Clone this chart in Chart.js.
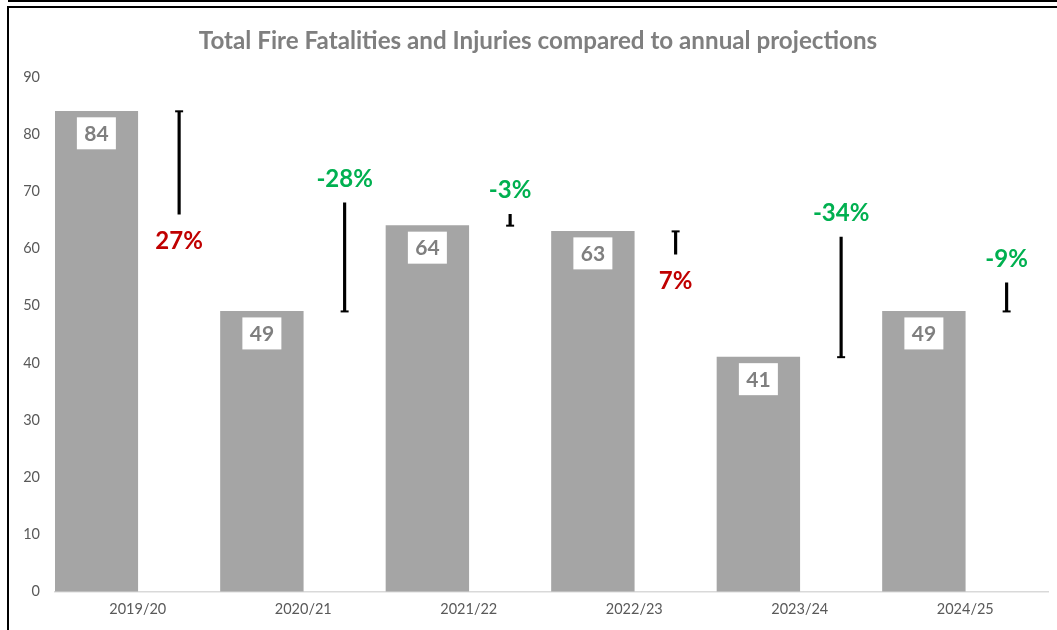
<!DOCTYPE html>
<html><head><meta charset="utf-8">
<script src="https://cdn.jsdelivr.net/npm/chart.js@4"></script>
<style>
html,body{margin:0;padding:0;background:#fff;}
#wrap{position:relative;width:1057px;height:630px;overflow:hidden;background:#fff;}
#c{position:absolute;left:0;top:0;}
.f1{position:absolute;left:8px;top:0;width:1049px;height:2px;background:#000;}
.f2{position:absolute;left:7px;top:6px;width:1050px;height:624px;border-top:2px solid #000;border-left:2px solid #000;box-sizing:border-box;pointer-events:none;}
</style></head>
<body><div id="wrap"><canvas id="c" width="1057" height="630"></canvas><div class="f1"></div><div class="f2"></div></div>
<script>
const titleText = 'Total Fire Fatalities and Injuries compared to annual projections';
const categories = ['2019/20','2020/21','2021/22','2022/23','2023/24','2024/25'];
const actuals = [84, 49, 64, 63, 41, 49];
const projections = [66, 68, 66, 59, 62, 54];
const changeLabels = ['27%','-28%','-3%','7%','-34%','-9%'];
const yMin = 0, yMax = 90, yStep = 10;

const FONT = 'Lato, "Open Sans", sans-serif';
const titleSize = 24.2;

const annot = {
  id: 'annot',
  afterDatasetsDraw(chart) {
    const ctx = chart.ctx;
    const ys = chart.scales.y;
    ctx.save();
    // value boxes
    const bm = chart.getDatasetMeta(0);
    ctx.font = 'bold 21px ' + FONT;
    ctx.textAlign = 'center';
    ctx.textBaseline = 'middle';
    bm.data.forEach((bar, i) => {
      const t = String(actuals[i]);
      const w = 39;
      const h = 32;
      const top = bar.y + 6;
      ctx.fillStyle = '#ffffff';
      ctx.fillRect(bar.x - w / 2, top, w, h);
      ctx.fillStyle = '#7F7F7F';
      ctx.fillText(t, bar.x, top + h / 2 + 1);
    });
    // caps and change labels
    const lm = chart.getDatasetMeta(1);
    lm.data.forEach((el, i) => {
      const ya = ys.getPixelForValue(actuals[i]);
      const yp = ys.getPixelForValue(projections[i]);
      ctx.strokeStyle = '#000';
      ctx.lineWidth = 2;
      ctx.beginPath();
      ctx.moveTo(el.x - 4, ya);
      ctx.lineTo(el.x + 4, ya);
      ctx.stroke();
      const up = actuals[i] > projections[i];
      ctx.font = 'bold 24px ' + FONT;
      ctx.fillStyle = up ? '#C00000' : '#00B050';
      ctx.fillText(changeLabels[i], el.x, up ? yp + 27 : yp - 24);
    });
    ctx.restore();
  }
};

new Chart(document.getElementById('c'), {
  type: 'bar',
  data: {
    labels: categories,
    datasets: [
      { label: 'Actual', data: actuals, backgroundColor: '#A5A5A5', categoryPercentage: 1, barPercentage: 1 },
      { label: 'Projection', data: actuals.map((a, i) => [projections[i], a]), backgroundColor: '#000000',
        categoryPercentage: 1, barPercentage: 1, maxBarThickness: 2.5 }
    ]
  },
  options: {
    responsive: false,
    animation: false,
    events: [],
    layout: { padding: { left: 28, right: 9, top: 0, bottom: 3 } },
    plugins: {
      legend: { display: false },
      tooltip: { enabled: false },
      title: {
        display: true, text: titleText, color: '#7F7F7F',
        font: { family: FONT, size: titleSize, weight: 'bold', lineHeight: 1.2 },
        padding: { top: 41 - 0.6 * titleSize, bottom: 36 - 0.6 * titleSize }
      }
    },
    scales: {
      x: {
        grid: { display: false, drawTicks: false },
        border: { display: true, color: '#D9D9D9', width: 1.5 },
        ticks: { color: '#595959', font: { family: FONT, size: 14.5 }, padding: 9, maxRotation: 0 }
      },
      y: {
        min: yMin, max: yMax,
        grid: { display: false, drawTicks: false },
        border: { display: false },
        ticks: { stepSize: yStep, color: '#595959', font: { family: FONT, size: 14.5 }, padding: 15 },
        afterFit(s) { s.width = 27; s._computeLabelArea = () => undefined; }
      }
    }
  },
  plugins: [annot]
});
</script>
</body></html>
